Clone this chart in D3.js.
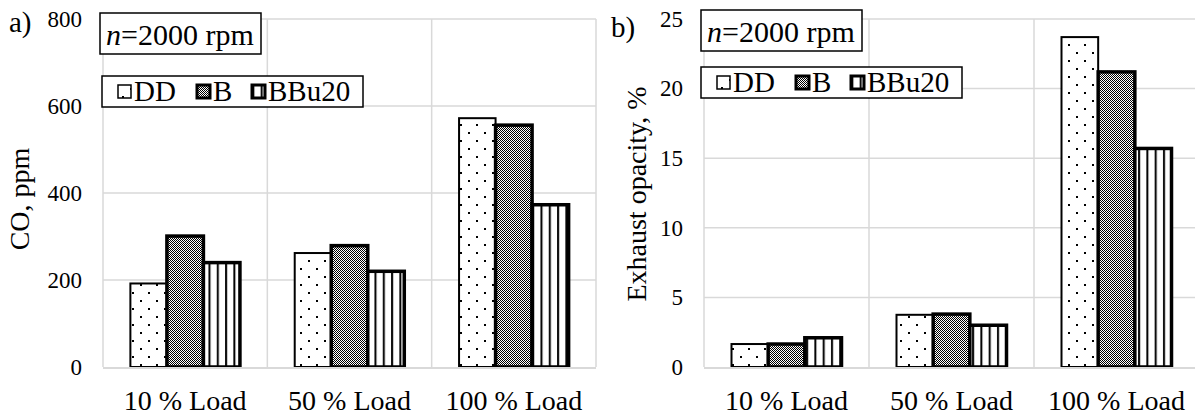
<!DOCTYPE html>
<html>
<head>
<meta charset="utf-8">
<script src="https://cdn.jsdelivr.net/npm/d3@7"></script>
<style>
  body { margin: 0; background: #fff; }
  svg { display: block; font-family: "Liberation Serif", "Times New Roman", serif; }
</style>
</head>
<body>
<div id="chart"></div>
<script>
// categories and series
var loads = ['10 % Load', '50 % Load', '100 % Load'];
var seriesNames = ['DD', 'B', 'BBu20'];

// a) CO, ppm
var coDD = [192, 262, 572];
var coB = [301, 279, 556];
var coBBu20 = [240, 220, 373];
var coTicks = [0, 200, 400, 600, 800];

// b) Exhaust opacity, %
var opDD = [1.65, 3.75, 23.7];
var opB = [1.65, 3.8, 21.2];
var opBBu20 = [2.1, 3.0, 15.7];
var opTicks = [0, 5, 10, 15, 20, 25];

var svgWidth = 1195;
var svgHeight = 416;
var grid = '#d9d9d9';

var svg = d3.select('#chart').append('svg')
  .attr('width', svgWidth)
  .attr('height', svgHeight);

// fill patterns (Excel-like)
var defs = svg.append('defs');

var dots = defs.append('pattern')
  .attr('id', 'pat-DD')
  .attr('patternUnits', 'userSpaceOnUse')
  .attr('width', 16).attr('height', 16);
dots.append('rect').attr('width', 16).attr('height', 16).attr('fill', '#fff');
dots.append('rect').attr('x', 4).attr('y', 4).attr('width', 2).attr('height', 2).attr('fill', '#000');
dots.append('rect').attr('x', 12).attr('y', 12).attr('width', 2).attr('height', 2).attr('fill', '#000');

var checker = defs.append('pattern')
  .attr('id', 'pat-B')
  .attr('patternUnits', 'userSpaceOnUse')
  .attr('width', 2).attr('height', 2);
checker.append('rect').attr('width', 2).attr('height', 2).attr('fill', '#fff');
checker.append('rect').attr('width', 1).attr('height', 1).attr('fill', '#000');
checker.append('rect').attr('x', 1).attr('y', 1).attr('width', 1).attr('height', 1).attr('fill', '#000');

var stripes = defs.append('pattern')
  .attr('id', 'pat-BBu20')
  .attr('patternUnits', 'userSpaceOnUse')
  .attr('width', 8.3).attr('height', 10);
stripes.append('rect').attr('width', 8.3).attr('height', 10).attr('fill', '#fff');
stripes.append('rect').attr('x', 1).attr('width', 2).attr('height', 10).attr('fill', '#000');

var strokeW = { 'DD': 2, 'B': 3.5, 'BBu20': 3.5 };

var panels = [
  {
    tag: 'a)', tagX: 9, tagY: 32,
    values: [coDD, coB, coBBu20], ticks: coTicks, max: 800,
    title: 'CO, ppm', titleX: 29, titleY: 199,
    left: 103, right: 596,
    nBox: { x: 100, y: 13 },
    legend: { x: 102, y: 76 }
  },
  {
    tag: 'b)', tagX: 611, tagY: 37,
    values: [opDD, opB, opBBu20], ticks: opTicks, max: 25,
    title: 'Exhaust opacity, %', titleX: 646, titleY: 194,
    left: 704, right: 1199,
    nBox: { x: 701, y: 10 },
    legend: { x: 701, y: 67 }
  }
];

var plotTop = 19;
var plotBottom = 367;

panels.forEach(function(p) {
  var g = svg.append('g');

  var yScale = d3.scaleLinear()
    .domain([0, p.max])
    .range([plotBottom, plotTop]);

  var xScale = d3.scaleBand()
    .domain(loads)
    .range([p.left, p.right]);

  var inner = d3.scaleBand()
    .domain(seriesNames)
    .range([0, xScale.bandwidth()])
    .paddingOuter(0.75);

  // horizontal gridlines
  g.append('g').selectAll('line')
    .data(p.ticks.slice(1))
    .enter().append('line')
    .attr('x1', p.left).attr('x2', p.right)
    .attr('y1', function(d) { return yScale(d); })
    .attr('y2', function(d) { return yScale(d); })
    .attr('stroke', grid).attr('stroke-width', 1.5);

  // vertical gridlines at category edges
  var edges = loads.map(function(d) { return xScale(d); }).concat([p.right]);
  g.append('g').selectAll('line')
    .data(edges)
    .enter().append('line')
    .attr('x1', function(d) { return d; }).attr('x2', function(d) { return d; })
    .attr('y1', plotTop).attr('y2', plotBottom)
    .attr('stroke', grid).attr('stroke-width', 1.5);

  // y axis tick labels
  var yAxis = d3.axisLeft(yScale).tickValues(p.ticks).tickSize(0).tickPadding(0);
  var ya = g.append('g')
    .attr('transform', 'translate(' + (p.left - 21) + ',0)')
    .call(yAxis);
  ya.select('.domain').remove();
  ya.selectAll('text')
    .attr('font-size', 23)
    .attr('font-family', 'Liberation Serif')
    .attr('fill', '#000');

  // bars
  seriesNames.forEach(function(s, si) {
    g.append('g').selectAll('rect')
      .data(p.values[si])
      .enter().append('rect')
      .attr('x', function(d, i) { return xScale(loads[i]) + inner(s); })
      .attr('y', function(d) { return yScale(d); })
      .attr('width', inner.bandwidth())
      .attr('height', function(d) { return plotBottom - yScale(d); })
      .attr('fill', 'url(#pat-' + s + ')')
      .attr('stroke', '#000')
      .attr('stroke-width', strokeW[s]);
  });

  // x axis line
  g.append('line')
    .attr('x1', p.left).attr('x2', p.right)
    .attr('y1', plotBottom + 1).attr('y2', plotBottom + 1)
    .attr('stroke', grid).attr('stroke-width', 2);

  // category labels
  var xAxis = d3.axisBottom(xScale).tickSize(0).tickPadding(0);
  var xa = g.append('g')
    .attr('transform', 'translate(0,390)')
    .call(xAxis);
  xa.select('.domain').remove();
  xa.selectAll('text')
    .attr('font-size', 28)
    .attr('font-family', 'Liberation Serif')
    .attr('fill', '#000');

  // y title
  g.append('text')
    .attr('transform', 'translate(' + p.titleX + ',' + p.titleY + ') rotate(-90)')
    .attr('text-anchor', 'middle')
    .attr('font-size', 28)
    .text(p.title);

  // panel tag
  g.append('text')
    .attr('x', p.tagX).attr('y', p.tagY)
    .attr('font-size', 29)
    .text(p.tag);

  // n=2000 rpm box
  g.append('rect')
    .attr('x', p.nBox.x).attr('y', p.nBox.y)
    .attr('width', 161).attr('height', 41)
    .attr('fill', '#fff').attr('stroke', '#000').attr('stroke-width', 1.5);
  var nt = g.append('text')
    .attr('x', p.nBox.x + 6).attr('y', p.nBox.y + 32)
    .attr('font-size', 30);
  nt.append('tspan').attr('font-style', 'italic').text('n');
  nt.append('tspan').text('=2000 rpm');

  // legend
  var lg = g.append('g').attr('transform', 'translate(' + p.legend.x + ',' + p.legend.y + ')');
  lg.append('rect')
    .attr('width', 261).attr('height', 31)
    .attr('fill', '#fff').attr('stroke', '#000').attr('stroke-width', 1.5);
  var itemX = [16, 95, 150];
  seriesNames.forEach(function(s, si) {
    lg.append('rect')
      .attr('x', itemX[si]).attr('y', 9)
      .attr('width', 13).attr('height', 13)
      .attr('fill', 'url(#pat-' + s + ')')
      .attr('stroke', '#000')
      .attr('stroke-width', s === 'DD' ? 1.5 : 3);
    lg.append('text')
      .attr('x', itemX[si] + 16).attr('y', 25)
      .attr('font-size', 29)
      .text(s);
  });
});
</script>
</body>
</html>
